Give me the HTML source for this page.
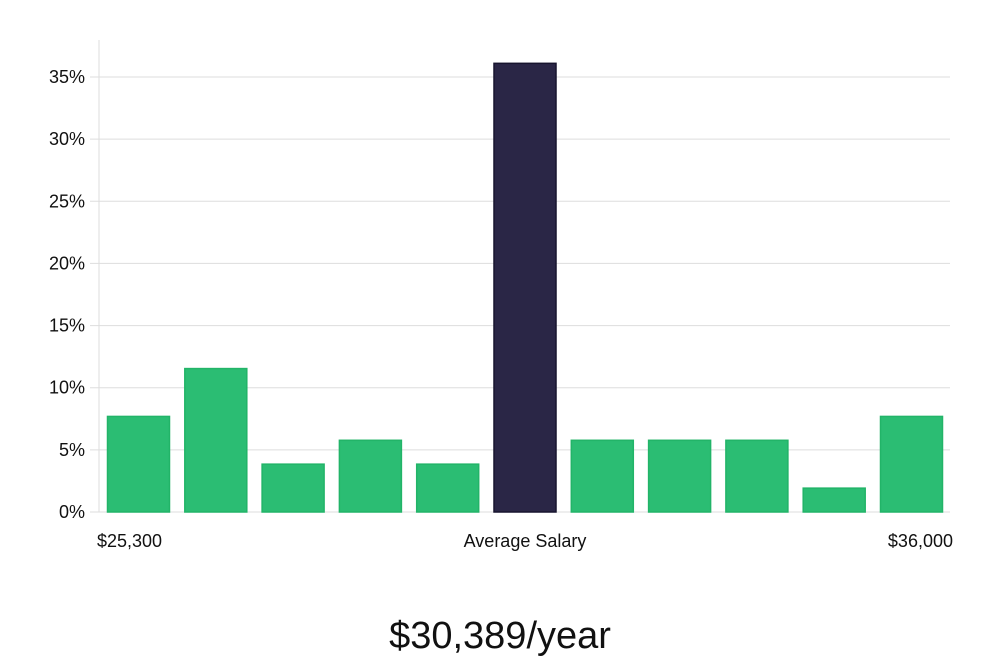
<!DOCTYPE html>
<html><head><meta charset="utf-8"><style>
body{margin:0;background:#fff;width:1000px;height:660px;overflow:hidden;font-family:"Liberation Sans","DejaVu Sans",sans-serif}
</style></head><body>
<svg width="1000" height="660">
<g id="grid"></g><g id="bars"></g><g id="labels"></g>
<text x="97" y="547" font-size="18" fill="#111">$25,300</text>
<text x="525" y="547" font-size="18" fill="#111" text-anchor="middle">Average Salary</text>
<text x="953" y="547" font-size="18" fill="#111" text-anchor="end">$36,000</text>
<text x="500" y="648" font-size="38" fill="#111" text-anchor="middle" font-family="'Liberation Sans Narrow','Liberation Sans',sans-serif">$30,389/year</text>
</svg>
<script>
const values=[7.69,11.54,3.85,5.77,3.85,36.1,5.77,5.77,5.77,1.92,7.69];
const highlight=[false,false,false,false,false,true,false,false,false,false,false];
const ticks=[0,5,10,15,20,25,30,35];
const ns="http://www.w3.org/2000/svg";
const y=v=>512-v*(435/35);
const x=i=>107+i*77.3;
function mk(t,a,p){const e=document.createElementNS(ns,t);for(const k in a)e.setAttribute(k,a[k]);document.getElementById(p).appendChild(e);return e;}
const ax=mk('line',{x1:99,x2:99,y1:40,y2:512,stroke:'#ddd'},'grid');


ticks.forEach(t=>{
 const g=mk('line',{x1:90,x2:950,y1:y(t),y2:y(t),stroke:'#ddd'},'grid');
 
 
 const l=mk('text',{x:85,y:y(t)+6,'font-size':18,fill:'#111','text-anchor':'end'},'labels');
 l.textContent=t+'%';
 
 
});
values.forEach((v,i)=>{
 const b=mk('rect',{x:x(i)+0.5,y:y(v),width:62,height:512-y(v),fill:highlight[i]?'#2a2646':'#2bbd73',stroke:highlight[i]?'#17142e':'#22b468','stroke-width':1.5},'bars');
 
 
});
</script>
</body></html>
